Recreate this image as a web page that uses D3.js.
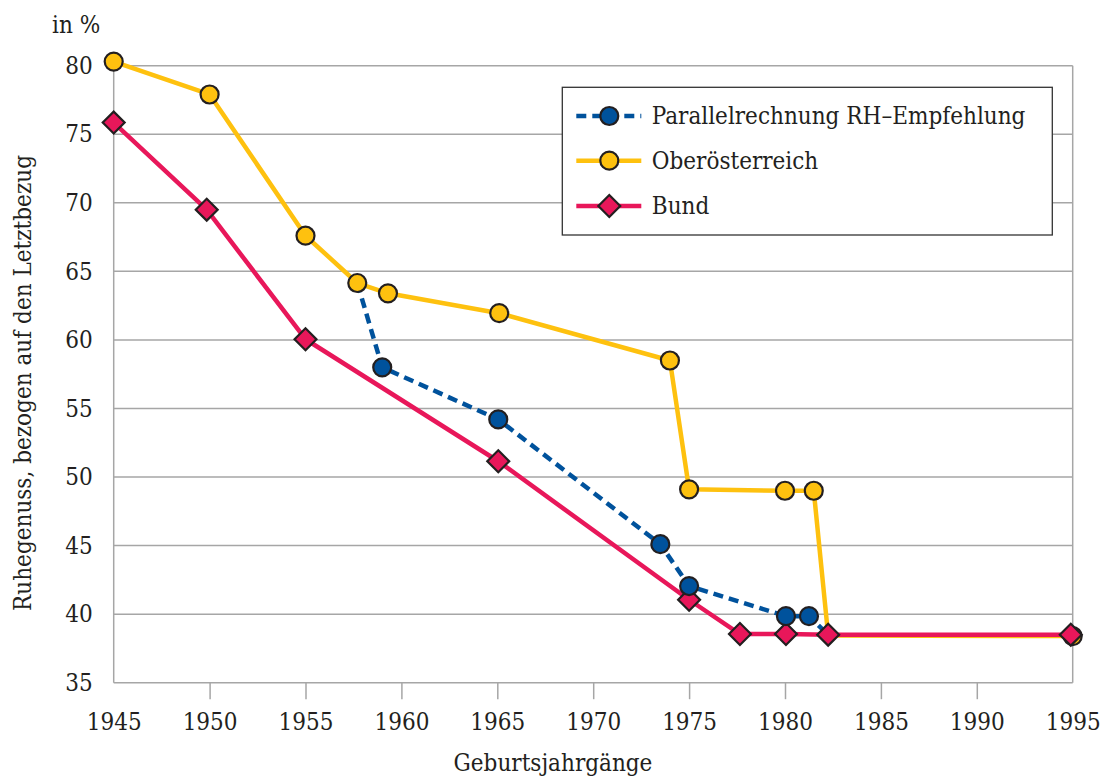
<!DOCTYPE html>
<html>
<head>
<meta charset="utf-8">
<script src="https://cdn.jsdelivr.net/npm/d3@7"></script>
<style>
  body { margin: 0; background: #fff; }
  svg text { font-family: "DejaVu Serif Condensed", "DejaVu Serif", serif; font-stretch: condensed; fill: #231f20; }
</style>
</head>
<body>
<svg id="svg"></svg>
<script>
const width = 1102;
const height = 778;
const fontSize = 24;

// data
const xTicks = [1945, 1950, 1955, 1960, 1965, 1970, 1975, 1980, 1985, 1990, 1995];
const yTicks = [35, 40, 45, 50, 55, 60, 65, 70, 75, 80];

const parallelYears = [1957.7, 1959.0, 1965.05, 1973.5, 1975.0, 1980.05, 1981.25, 1982.25];
const parallelValues = [64.15, 58.0, 54.2, 45.1, 42.05, 39.85, 39.85, 38.5];

const ooeYears = [1945, 1950, 1955, 1957.7, 1959.3, 1965.1, 1974.0, 1975.0, 1980.0, 1981.5, 1982.25, 1995];
const ooeValues = [80.3, 77.9, 67.6, 64.15, 63.4, 61.95, 58.5, 49.1, 49.0, 49.0, 38.45, 38.4];

const bundYears = [1945, 1949.85, 1955, 1965.05, 1975.0, 1977.65, 1980.05, 1982.25, 1994.9];
const bundValues = [75.85, 69.5, 60.05, 51.15, 41.05, 38.55, 38.55, 38.5, 38.5];

const seriesNames = ["Parallelrechnung RH–Empfehlung", "Oberösterreich", "Bund"];

const blue = "#00529c", yellow = "#fec10f", red = "#e8175a", outline = "#231f20";

let margin = {top: 65.7, right: 29.3, bottom: 95.3, left: 113.7};
let plotW = width - margin.left - margin.right,
    plotH = height - margin.top - margin.bottom;

const x = d3.scaleLinear().domain([1945, 1995]).range([0, plotW]);
const y = d3.scaleLinear().domain([35, 80]).range([plotH, 0]);

const svg = d3.select("#svg")
    .attr("width", width)
    .attr("height", height);

const g = svg.append("g")
    .attr("transform", `translate(${margin.left}, ${margin.top})`);

// grid
g.append("g")
    .selectAll("line")
    .data(yTicks)
    .join("line")
    .attr("x1", 0).attr("x2", plotW)
    .attr("y1", d => y(d)).attr("y2", d => y(d))
    .attr("stroke", "#a6a6a6")
    .attr("stroke-width", 1.5);

// frame left / right
g.append("line").attr("x1", 0).attr("x2", 0).attr("y1", 0).attr("y2", plotH)
    .attr("stroke", "#a6a6a6").attr("stroke-width", 1.5);
g.append("line").attr("x1", plotW).attr("x2", plotW).attr("y1", 0).attr("y2", plotH)
    .attr("stroke", "#a6a6a6").attr("stroke-width", 1.5);

// x axis
const xAxis = g.append("g")
    .attr("transform", `translate(0, ${plotH})`)
    .call(d3.axisBottom(x).tickValues(xTicks).tickFormat(d3.format("d")).tickSize(16.5).tickPadding(14));
xAxis.select(".domain").remove();
xAxis.selectAll(".tick line")
    .attr("stroke", "#a6a6a6")
    .attr("stroke-width", 1.5)
    .attr("opacity", d => (d === 1945 || d === 1995) ? 0 : 1);
xAxis.selectAll(".tick text")
    .attr("font-size", fontSize)
    .attr("font-family", null)
    .attr("fill", outline);

// y axis
const yAxis = g.append("g")
    .call(d3.axisLeft(y).tickValues(yTicks).tickSize(0).tickPadding(21));
yAxis.select(".domain").remove();
yAxis.selectAll(".tick text")
    .attr("font-size", fontSize)
    .attr("font-family", null)
    .attr("fill", outline);

// titles
svg.append("text").attr("x", 52).attr("y", 33).attr("font-size", fontSize).text("in %");
svg.append("text")
    .attr("transform", "translate(31, 383) rotate(-90)")
    .attr("text-anchor", "middle")
    .attr("font-size", fontSize)
    .text("Ruhegenuss, bezogen auf den Letztbezug");
svg.append("text")
    .attr("x", 553).attr("y", 771)
    .attr("text-anchor", "middle")
    .attr("font-size", fontSize)
    .text("Geburtsjahrgänge");

const line = d3.line().x(d => x(d[0])).y(d => y(d[1]));
const zip = (a, b) => a.map((v, i) => [v, b[i]]);

const parallel = zip(parallelYears, parallelValues);
const ooe = zip(ooeYears, ooeValues);
const bund = zip(bundYears, bundValues);

const lines = g.append("g").attr("fill", "none").attr("stroke-linejoin", "round");
lines.append("path").attr("d", line(ooe)).attr("stroke", yellow).attr("stroke-width", 4.5);
lines.append("path").attr("d", line(bund)).attr("stroke", red).attr("stroke-width", 4.5);
lines.append("path").attr("d", line(parallel)).attr("stroke", blue).attr("stroke-width", 4.5)
    .attr("stroke-dasharray", "10,6");

const circleSym = d3.symbol().type(d3.symbolCircle).size(Math.PI * 9 * 9);
const diamondSym = d3.symbol().type(d3.symbolSquare).size(15.5 * 15.5);

function circles(data, color, skip) {
    g.append("g")
        .selectAll("path")
        .data(data.filter((d, i) => !skip.includes(i)))
        .join("path")
        .attr("transform", d => `translate(${x(d[0])}, ${y(d[1])})`)
        .attr("d", circleSym)
        .attr("fill", color)
        .attr("stroke", outline)
        .attr("stroke-width", 2.2);
}

function diamonds(data, color) {
    g.append("g")
        .selectAll("path")
        .data(data)
        .join("path")
        .attr("transform", d => `translate(${x(d[0])}, ${y(d[1])}) rotate(45)`)
        .attr("d", diamondSym)
        .attr("fill", color)
        .attr("stroke", outline)
        .attr("stroke-width", 2.2);
}

circles(ooe, yellow, [10]);
diamonds(bund, red);
circles(parallel, blue, [0, 7]);

// legend
const legend = svg.append("g").attr("transform", "translate(562.3, 87.3)");
legend.append("rect")
    .attr("width", 490).attr("height", 147.7)
    .attr("fill", "#fff")
    .attr("stroke", "#333")
    .attr("stroke-width", 1.3);

const legendColors = [blue, yellow, red];
const legendRowY = [28.7, 73.4, 118.7];

seriesNames.forEach((name, i) => {
    const row = legend.append("g").attr("transform", `translate(0, ${legendRowY[i]})`);
    row.append("line")
        .attr("x1", 14).attr("x2", 79)
        .attr("stroke", legendColors[i])
        .attr("stroke-width", 4.5)
        .attr("stroke-dasharray", i === 0 ? "10,6" : null);
    if (i === 2) {
        row.append("path").attr("transform", "translate(47, 0) rotate(45)")
            .attr("d", diamondSym).attr("fill", red)
            .attr("stroke", outline).attr("stroke-width", 2.2);
    } else {
        row.append("path").attr("transform", "translate(47, 0)")
            .attr("d", circleSym).attr("fill", legendColors[i])
            .attr("stroke", outline).attr("stroke-width", 2.2);
    }
    row.append("text")
        .attr("x", 89.5).attr("y", 8)
        .attr("font-size", fontSize)
        .text(name);
});
</script>
</body>
</html>
